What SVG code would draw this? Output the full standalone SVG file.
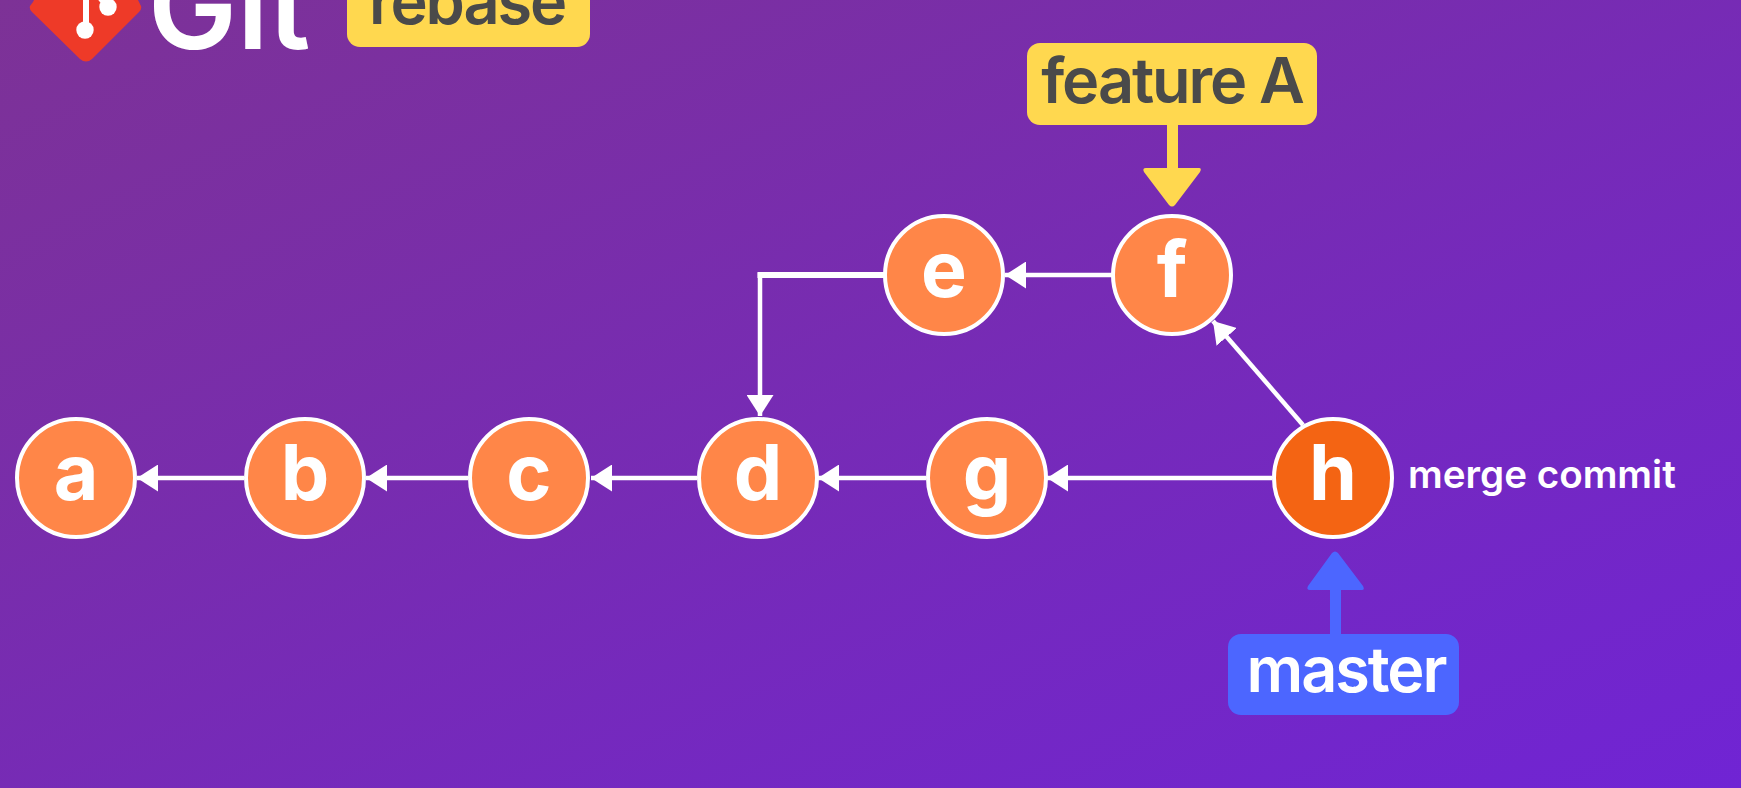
<svg xmlns="http://www.w3.org/2000/svg" width="1741" height="788" viewBox="0 0 1741 788">
<defs>
<linearGradient id="bg" gradientUnits="userSpaceOnUse" x1="575" y1="-260" x2="1166" y2="1048">
<stop offset="0" stop-color="#7d3296"/><stop offset="1" stop-color="#7024d4"/>
</linearGradient>
<marker id="ah" markerUnits="userSpaceOnUse" viewBox="0 0 21 27" refX="21" refY="13.500" markerWidth="21" markerHeight="27" orient="auto"><path d="M0 0L21 13.500L0 27Z" fill="#fff"/></marker>
</defs>
<style>
text{font-family:Inter,"Liberation Sans",sans-serif}
.n circle{fill:#ff8648;stroke:#fff;stroke-width:4}
.n text{fill:#fff;font-size:77px;font-weight:650;text-anchor:middle}
.c{fill:none;stroke:#fff;stroke-width:4.500;marker-end:url(#ah)}
.y{fill:#ffd84f}
.b{fill:#4c66ff}
.l{font-size:63px;font-weight:600;letter-spacing:-2.100px;text-anchor:middle}
</style>
<rect width="1741" height="788" fill="url(#bg)"/>
<g id="logo">
<path d="M33 2L30 6Q29 9 32 12L80 59Q86 64 92 59L139 12Q142 9 141 6L136-4H36Z" fill="#ee3a28"/>
<path d="M86-5V30M98-5L108 7" fill="none" stroke="#fff" stroke-width="6"/>
<circle cx="85" cy="30" r="8.700" fill="#fff"/><circle cx="108" cy="7" r="8.700" fill="#fff"/>
</g>
<text id="git" x="148" y="49" font-size="119" font-weight="600" fill="#fff">Git</text>
<g id="rebase"><rect class="y" x="347" y="-30" width="243" height="77" rx="13"/>
<text class="l" x="467" y="24" fill="#4a4a4a">rebase</text></g>
<g id="connectors">
<path class="c" d="M244 478H137"/>
<path class="c" d="M468 478H366"/>
<path class="c" d="M697 478H591"/>
<path class="c" d="M926 478H818"/>
<path class="c" d="M1272 478H1047"/>
<path class="c" d="M1112 275H1005"/>
<path class="c" d="M884 275H760V416"/>
<path d="M884 275H757.500" stroke="#fff" stroke-width="6" fill="none"/>
<path class="c" d="M1303 425L1213 321"/>
<path class="y" d="M1167 125H1178V168H1199Q1202 168 1200 172L1175 205Q1172 208 1169 205L1144 172Q1142 168 1146 168H1167Z"/>
<path class="b" d="M1330 634H1341V590H1362Q1365 590 1363 586L1338 553Q1335 550 1332 553L1308 586Q1306 590 1310 590H1330Z"/>
</g>
<g id="node-a" class="n"><circle cx="76" cy="478" r="59"/><text x="76" y="500">a</text></g>
<g id="node-b" class="n"><circle cx="305" cy="478" r="59"/><text x="305" y="500">b</text></g>
<g id="node-c" class="n"><circle cx="529" cy="478" r="59"/><text x="529" y="500">c</text></g>
<g id="node-d" class="n"><circle cx="758" cy="478" r="59"/><text x="758" y="500">d</text></g>
<g id="node-g" class="n"><circle cx="987" cy="478" r="59"/><text x="987" y="500">g</text></g>
<g id="node-e" class="n"><circle cx="944" cy="275" r="59"/><text x="944" y="297">e</text></g>
<g id="node-f" class="n"><circle cx="1172" cy="275" r="59"/><text x="1172" y="297">f</text></g>
<g id="node-h" class="n"><circle cx="1333" cy="478" r="59" style="fill:#f46413"/><text x="1333" y="500">h</text></g>
<g id="merge-label"><text x="1408" y="488" font-size="38.600" font-weight="600" fill="#fff">merge commit</text></g>
<g id="feature-A"><rect class="y" x="1027" y="43" width="290" height="82" rx="13"/>
<text class="l" x="1172" y="103" fill="#4a4a4a">feature A</text></g>
<g id="master"><rect class="b" x="1228" y="634" width="231" height="81" rx="13"/>
<text class="l" x="1346" y="692" fill="#fff">master</text></g>
</svg>
